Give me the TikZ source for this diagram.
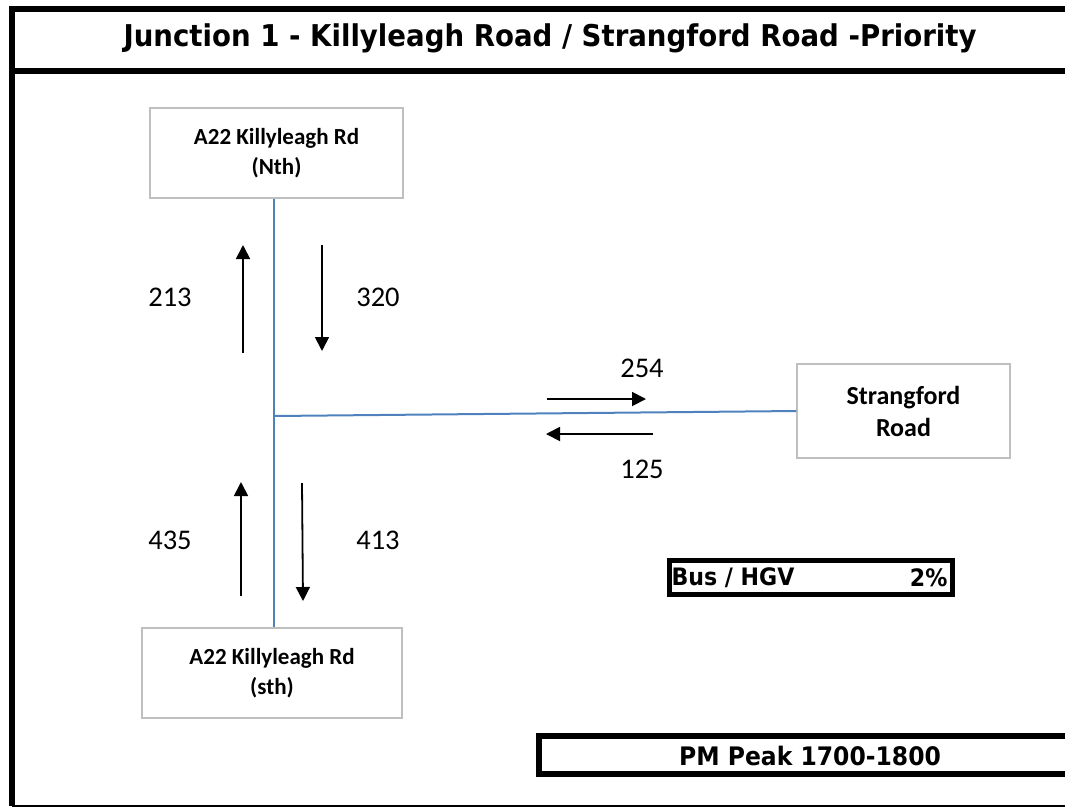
\documentclass[tikz,border=0pt]{standalone}
\usepackage{fontspec}
\setmainfont{Carlito}
\newfontfamily\headfont{DejaVu Sans}
\usepackage{tikz}
\usetikzlibrary{arrows.meta}
\definecolor{roadblue}{RGB}{79,129,189}
\definecolor{boxgrey}{RGB}{191,191,191}
\newcommand{\narrow}[1]{\scalebox{0.92}[1]{#1}}
\tikzset{
  roadbox/.style = {draw=boxgrey, line width=1.5pt, align=center,
    font=\fontsize{23}{30}\selectfont\bfseries},
  road/.style = {draw=roadblue, line width=2pt},
  flow/.style = {line width=1.8pt, -{Triangle[length=14pt,width=14pt]}},
  count/.style = {font=\fontsize{28.5}{30}\selectfont},
  heavy/.style = {line width=6pt},
  headtext/.style = {font=\headfont\bfseries\fontsize{24}{28}\selectfont}
}

\begin{document}
\begin{tikzpicture}[x=1pt, y=-1pt]
        \useasboundingbox (0,0) rectangle (1065,807);

        % frame and title
        \draw[heavy] (1065,8.5) -- (12,8.5) -- (12,806);
        \draw[heavy] (12,71) -- (1065,71);
        \draw[line width=2pt] (12,806) -- (1065,806);
        \node[headtext, font=\headfont\bfseries\fontsize{30}{34}\selectfont] (title) at (550,38)
            {\narrow{Junction 1 - Killyleagh Road / Strangford Road -Priority}};

        % roads
        \node[roadbox, minimum width=253pt, minimum height=90pt] (nth) at (276.5,153)
            {A22 Killyleagh Rd\\(Nth)};
        \node[roadbox, minimum width=260pt, minimum height=90pt] (sth) at (272,673)
            {A22 Killyleagh Rd\\(sth)};
        \node[roadbox, font=\fontsize{26}{32}\selectfont\bfseries,
              minimum width=213pt, minimum height=94pt] (stf) at (903.5,411)
            {Strangford\\Road};

        \coordinate (jn) at (274,416);
        \draw[road] (nth.south -| jn) -- (sth.north -| jn);
        \draw[road] (jn) -- (stf.west);

        % flows, north arm
        \draw[flow] (243,353) -- (243,245);
        \draw[flow] (322,245) -- (322,351);
        \node[count] (n213) at (170,297) {213};
        \node[count] (n320) at (378,297) {320};

        % flows, south arm
        \draw[flow] (241,596) -- (241,482);
        \draw[flow] (302,483) -- (303,601);
        \node[count] (n435) at (170,540) {435};
        \node[count] (n413) at (378,540) {413};

        % flows, east arm
        \draw[flow] (547,399) -- (646,399);
        \draw[flow] (653,434) -- (546,434);
        \node[count] (n254) at (642,368) {254};
        \node[count] (n125) at (642,469) {125};

        % heavy vehicles
        \node[draw, line width=5pt, minimum width=283pt, minimum height=34pt] (hgv) at (811,577.5) {};
        \node[headtext, anchor=west] (hgvname) at ([xshift=1pt]hgv.west) {\narrow{Bus / HGV}};
        \node[headtext, anchor=east] (hgvpct) at ([xshift=-4pt]hgv.east) {\narrow{2\%}};

        % peak period
        \draw[heavy] (1065,736) -- (539,736) -- (539,774) -- (1065,774);
        \node[headtext, font=\headfont\bfseries\fontsize{25.5}{28}\selectfont] (peak) at (810,756) {\narrow{PM Peak 1700-1800}};

    \end{tikzpicture}
\end{document}
